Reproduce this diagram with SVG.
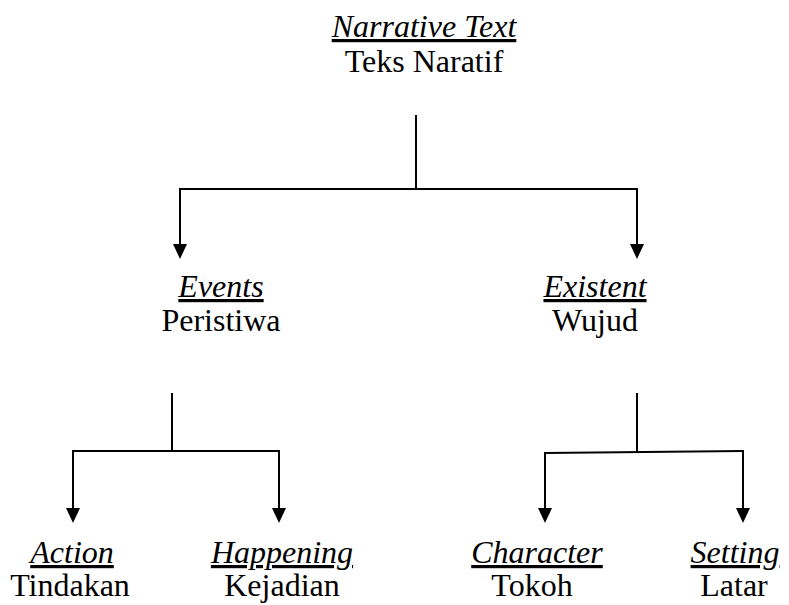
<svg xmlns="http://www.w3.org/2000/svg" width="789" height="605" viewBox="0 0 789 605">
<style>
text{font-size:32px;fill:#000;text-anchor:middle}
.en{font-style:italic;text-decoration:underline}
.ln{stroke:#000;stroke-width:2;fill:none}
.ah{fill:#000}
</style>
<rect width="789" height="605" fill="#fff"/>
<g id="connectors">
<path class="ln" d="M416,115 V189"/>
<path class="ln" d="M180,189 H637"/>
<path class="ln" d="M180,188 V244"/>
<path class="ln" d="M637,188 V244"/>
<path class="ln" d="M172,393 V451"/>
<path class="ln" d="M73,451 H279"/>
<path class="ln" d="M73,450 V508"/>
<path class="ln" d="M279,450 V508"/>
<path class="ln" d="M637,393 V452"/>
<path class="ln" d="M545,453 L743,451"/>
<path class="ln" d="M545,452 V508"/>
<path class="ln" d="M743,450 V508"/>
<path class="ah" d="M173,244 H187 L180,259 Z"/>
<path class="ah" d="M630,244 H644 L637,259 Z"/>
<path class="ah" d="M66,508 H80 L73,523 Z"/>
<path class="ah" d="M272,508 H286 L279,523 Z"/>
<path class="ah" d="M538,508 H552 L545,523 Z"/>
<path class="ah" d="M736,508 H750 L743,523 Z"/>
</g>
<g font-family="Liberation Serif, Times New Roman, Times, DejaVu Serif, Noto Serif, serif">
<g id="narrative">
<text class="en" x="424" y="37">Narrative Text</text>
<text x="424" y="72">Teks Naratif</text>
</g>
<g id="events">
<text class="en" x="221" y="297">Events</text>
<text x="221" y="331">Peristiwa</text>
</g>
<g id="existent">
<text class="en" x="595" y="297">Existent</text>
<text x="595" y="331">Wujud</text>
</g>
<g id="action">
<text class="en" x="72" y="563">Action</text>
<text x="70" y="596">Tindakan</text>
</g>
<g id="happening">
<text class="en" x="282" y="563">Happening</text>
<text x="282" y="596">Kejadian</text>
</g>
<g id="character">
<text class="en" x="537" y="563">Character</text>
<text x="532" y="596">Tokoh</text>
</g>
<g id="setting">
<text class="en" x="735" y="563">Setting</text>
<text x="734" y="596">Latar</text>
</g>
</g>
</svg>
